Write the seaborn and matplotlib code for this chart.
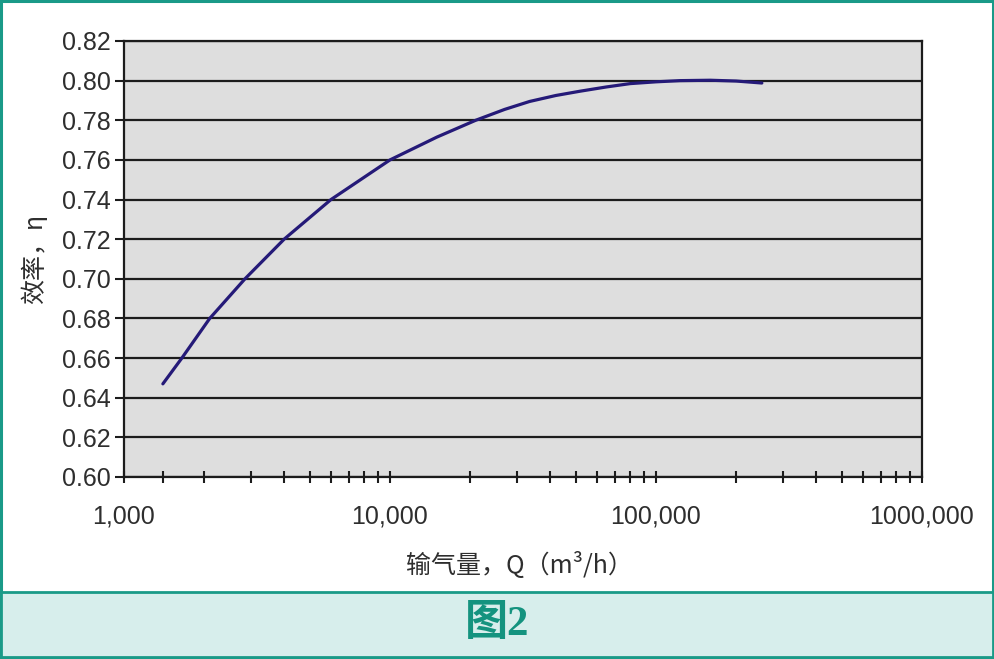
#!/usr/bin/env python3
# -*- coding: utf-8 -*-
"""
Fan efficiency vs air flow (log axis), figure 2
"""

import pandas as pd
import seaborn as sns
import matplotlib.pyplot as plt
from matplotlib.patches import Rectangle
from matplotlib.ticker import FixedLocator, FixedFormatter, NullFormatter

# values
flow_q = [1400, 1650, 2100, 2850, 4000, 6000, 10000, 15000, 21000, 27000,
          33500, 42000, 52000, 65000, 80000, 100000, 123000, 160000, 200000, 250000]
efficiency = [0.647, 0.660, 0.680, 0.700, 0.720, 0.740, 0.760, 0.7715, 0.780, 0.7855,
              0.7895, 0.7925, 0.7947, 0.7968, 0.7985, 0.7994, 0.8000, 0.8002, 0.7998, 0.7988]

x_major = [1000, 10000, 100000, 1000000]
x_major_labels = ['1,000', '10,000', '100,000', '1000,000']
x_minor = [1400, 2000, 3000, 4000, 5000, 6000, 7000, 8000, 9000,
           20000, 30000, 40000, 50000, 60000, 70000, 80000, 90000,
           200000, 300000, 400000, 500000, 600000, 700000, 800000, 900000]
y_ticks = [0.60, 0.62, 0.64, 0.66, 0.68, 0.70, 0.72, 0.74, 0.76, 0.78, 0.80, 0.82]

teal = '#1a9a88'
text_col = '#2e2e2e'
cjk = ['Noto Sans CJK SC', 'DejaVu Sans']


def plot_curve():
    sns.set_theme(style="white")
    plt.rcParams['font.family'] = ['Liberation Sans', 'Noto Sans CJK SC', 'DejaVu Sans']

    df = pd.DataFrame({'Q': flow_q, 'eta': efficiency})

    fig = plt.figure(figsize=(9.94, 6.59), dpi=100)
    ax = fig.add_axes([124 / 994, 1 - 477 / 659, 798 / 994, 436 / 659])
    ax.set_facecolor('#dedede')

    ax.set_xscale('log')
    sns.lineplot(data=df, x='Q', y='eta', ax=ax, color='#251a78', lw=2.3)

    ax.set_xlim(1000, 1000000)
    ax.set_ylim(0.60, 0.82)

    # horizontal black grid
    ax.set_yticks(y_ticks)
    ax.set_yticklabels([f'{v:.2f}' for v in y_ticks])
    for v in y_ticks:
        ax.axhline(v, color='#1c1c1c', lw=1.6, zorder=1)

    ax.xaxis.set_major_locator(FixedLocator(x_major))
    ax.xaxis.set_major_formatter(FixedFormatter(x_major_labels))
    ax.xaxis.set_minor_locator(FixedLocator(x_minor))
    ax.xaxis.set_minor_formatter(NullFormatter())

    ax.tick_params(axis='x', which='both', direction='inout', length=9,
                   width=1.5, color='#1c1c1c', pad=15, labelsize=18,
                   labelcolor=text_col, bottom=True)
    ax.tick_params(axis='y', which='major', direction='out', length=6.5,
                   width=1.5, color='#1c1c1c', pad=3, labelsize=18,
                   labelcolor=text_col, left=True)

    for sp in ax.spines.values():
        sp.set_visible(True)
        sp.set_color('#1c1c1c')
        sp.set_linewidth(1.6)

    ax.set_xlabel('输气量，Q（m³/h）', fontsize=18, color=text_col, family=cjk)
    ax.set_ylabel('效率，η', fontsize=18, color=text_col, family=cjk)
    ax.xaxis.set_label_coords(0.496, -0.172)
    ax.yaxis.set_label_coords(-0.095, 0.5)

    # frame and caption band
    fig.patches.append(Rectangle((0.0015, 0.0015), 0.997, 0.997, transform=fig.transFigure,
                                 fill=False, edgecolor=teal, lw=2.2, zorder=0))
    fig.patches.append(Rectangle((0.0015, 0.003), 0.997, 0.099, transform=fig.transFigure,
                                 facecolor='#d7eeec', edgecolor=teal, lw=2.0, zorder=0))
    fig.text(0.5, 0.052, '图2', ha='center', va='center', fontsize=31,
             fontweight='bold', color='#14937f',
             family=['Liberation Serif', 'Noto Sans CJK SC'])

    plt.savefig("out.png", dpi=100)


plot_curve()
